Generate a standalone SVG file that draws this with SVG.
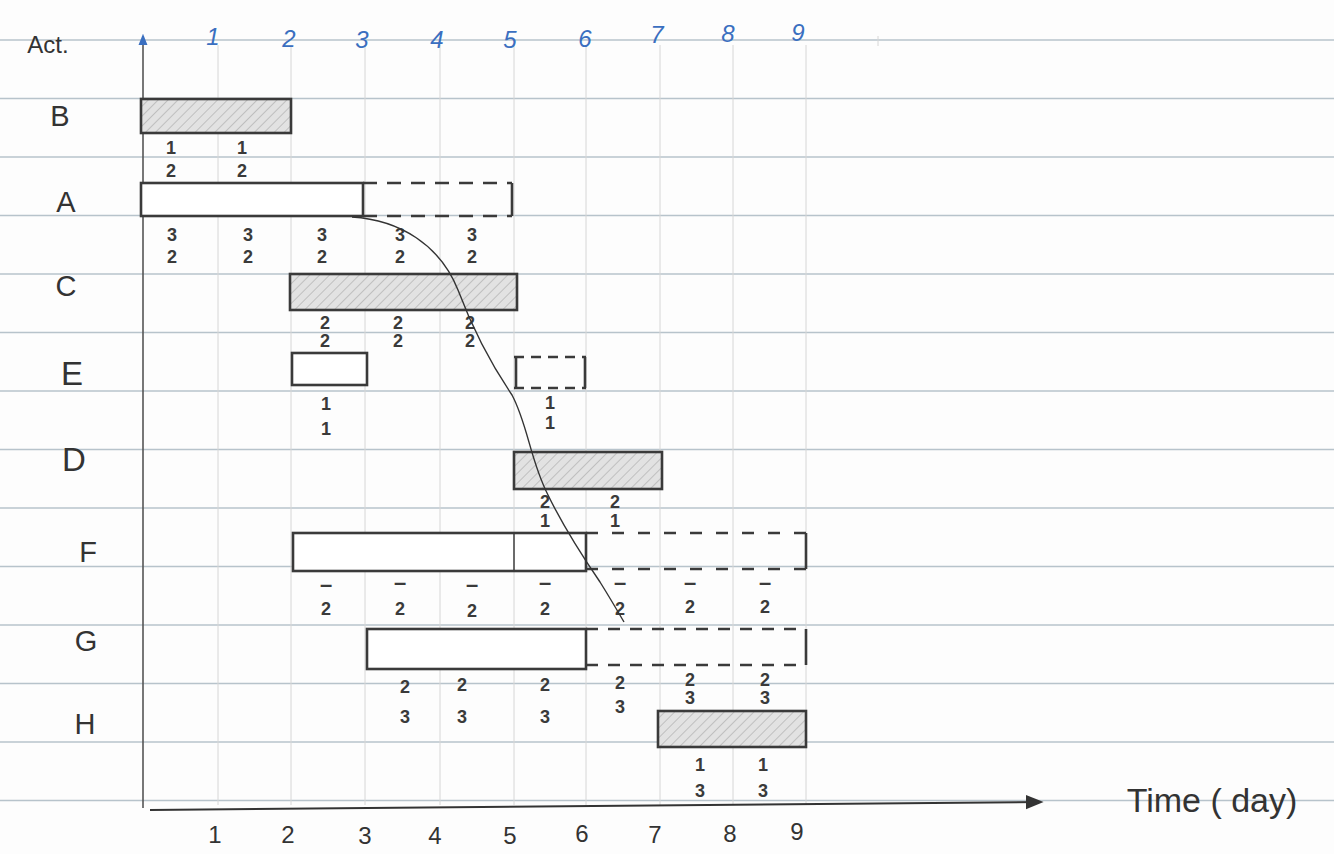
<svg xmlns="http://www.w3.org/2000/svg" width="1334" height="854" viewBox="0 0 1334 854">
<defs>
<pattern id="hatch" patternUnits="userSpaceOnUse" width="7" height="7" patternTransform="rotate(45)">
<rect width="7" height="7" fill="#e2e2e2"/>
<line x1="0" y1="0" x2="0" y2="7" stroke="#a8a8a8" stroke-width="1.2"/>
</pattern>
<marker id="arr" viewBox="0 0 10 10" refX="8" refY="5" markerWidth="9" markerHeight="9" orient="auto">
<path d="M0,1 L10,5 L0,9 Z" fill="#333"/>
</marker>
<marker id="arrb" viewBox="0 0 10 10" refX="8" refY="5" markerWidth="7" markerHeight="7" orient="auto">
<path d="M0,1 L10,5 L0,9 Z" fill="#3a6fc0"/>
</marker>
</defs>
<style>
.rule{stroke:#b7c3cb;stroke-width:1.3}
.vgrid{stroke:#d6d6d6;stroke-width:1}
.lbl{font-family:"Liberation Sans",Arial,sans-serif;font-size:29px;fill:#333;text-anchor:middle}
.num{font-family:"Liberation Sans",Arial,sans-serif;font-size:18px;font-weight:bold;fill:#3a3a3a;text-anchor:middle}
.dsh{font-family:"Liberation Sans",Arial,sans-serif;font-size:22px;font-weight:bold;fill:#3a3a3a;text-anchor:middle}
.ax{font-family:"Liberation Sans",Arial,sans-serif;font-size:24px;fill:#333;text-anchor:middle}
.bax{font-family:"Liberation Sans",Arial,sans-serif;font-size:24px;fill:#3a6fc0;text-anchor:middle;font-style:italic}
.solid{fill:#fff;stroke:#3a3a3a;stroke-width:2.6}
.shade{fill:url(#hatch);stroke:#3a3a3a;stroke-width:2.6}
.dash{fill:none;stroke:#3a3a3a;stroke-width:2.6;stroke-dasharray:14 10}
.edge{fill:none;stroke:#3a3a3a;stroke-width:2.6}
.conn{fill:none;stroke:#333;stroke-width:1.4}
</style>
<rect width="1334" height="854" fill="#fdfdfd"/>
<g id="paper">
<line class="rule" x1="0" y1="40" x2="1334" y2="40"/>
<line class="rule" x1="0" y1="98.5" x2="1334" y2="98.5"/>
<line class="rule" x1="0" y1="157" x2="1334" y2="157"/>
<line class="rule" x1="0" y1="215.5" x2="1334" y2="215.5"/>
<line class="rule" x1="0" y1="274" x2="1334" y2="274"/>
<line class="rule" x1="0" y1="332.5" x2="1334" y2="332.5"/>
<line class="rule" x1="0" y1="391" x2="1334" y2="391"/>
<line class="rule" x1="0" y1="449.5" x2="1334" y2="449.5"/>
<line class="rule" x1="0" y1="508" x2="1334" y2="508"/>
<line class="rule" x1="0" y1="566.5" x2="1334" y2="566.5"/>
<line class="rule" x1="0" y1="625" x2="1334" y2="625"/>
<line class="rule" x1="0" y1="683.5" x2="1334" y2="683.5"/>
<line class="rule" x1="0" y1="742" x2="1334" y2="742"/>
<line class="rule" x1="0" y1="800.5" x2="1334" y2="800.5"/>
<line class="vgrid" x1="218" y1="45" x2="218" y2="805"/>
<line class="vgrid" x1="291" y1="45" x2="291" y2="805"/>
<line class="vgrid" x1="365" y1="45" x2="365" y2="805"/>
<line class="vgrid" x1="440" y1="45" x2="440" y2="805"/>
<line class="vgrid" x1="514" y1="45" x2="514" y2="805"/>
<line class="vgrid" x1="586" y1="45" x2="586" y2="805"/>
<line class="vgrid" x1="660" y1="45" x2="660" y2="805"/>
<line class="vgrid" x1="733" y1="45" x2="733" y2="805"/>
<line class="vgrid" x1="806" y1="45" x2="806" y2="805"/>
<line class="vgrid" x1="878" y1="36" x2="878" y2="46"/>
</g>
<g id="axes">
<line x1="143" y1="808" x2="143" y2="36" stroke="#555" stroke-width="1.6" marker-end="url(#arrb)"/>
<line x1="150" y1="810" x2="1040" y2="802" stroke="#333" stroke-width="2" marker-end="url(#arr)"/>
<text x="48" y="53" class="lbl" style="font-size:24px">Act.</text>
<text x="213" y="45" class="bax">1</text>
<text x="289" y="47" class="bax">2</text>
<text x="362" y="48" class="bax">3</text>
<text x="437" y="48" class="bax">4</text>
<text x="510" y="48" class="bax">5</text>
<text x="585" y="47" class="bax">6</text>
<text x="657" y="43" class="bax">7</text>
<text x="728" y="42" class="bax">8</text>
<text x="798" y="41" class="bax">9</text>
<text x="215" y="843" class="ax">1</text>
<text x="288" y="843" class="ax">2</text>
<text x="365" y="844" class="ax">3</text>
<text x="435" y="844" class="ax">4</text>
<text x="510" y="844" class="ax">5</text>
<text x="582" y="842" class="ax">6</text>
<text x="655" y="843" class="ax">7</text>
<text x="730" y="842" class="ax">8</text>
<text x="797" y="840" class="ax">9</text>
<text x="1212" y="812" class="lbl" style="font-size:34px">Time ( day)</text>
</g>
<g id="node-B">
<text x="60" y="126" class="lbl">B</text>
<rect x="141" y="99" width="150" height="34" class="shade"/>
<text x="171" y="154" class="num">1</text><text x="171" y="177" class="num">2</text>
<text x="242" y="154" class="num">1</text><text x="242" y="177" class="num">2</text>
</g>
<g id="node-A">
<text x="66" y="212" class="lbl">A</text>
<rect x="141" y="183" width="222" height="33" class="solid"/>
<path d="M363,183 H512 M363,216 H512" class="dash"/>
<path d="M512,183 V216" class="edge"/>
<text x="172" y="241" class="num">3</text><text x="172" y="263" class="num">2</text>
<text x="248" y="241" class="num">3</text><text x="248" y="263" class="num">2</text>
<text x="322" y="241" class="num">3</text><text x="322" y="263" class="num">2</text>
<text x="400" y="241" class="num">3</text><text x="400" y="263" class="num">2</text>
<text x="472" y="241" class="num">3</text><text x="472" y="263" class="num">2</text>
</g>
<g id="node-C">
<text x="66" y="296" class="lbl">C</text>
<rect x="290" y="274" width="227" height="36" class="shade"/>
<text x="325" y="329" class="num">2</text><text x="325" y="347" class="num">2</text>
<text x="398" y="329" class="num">2</text><text x="398" y="347" class="num">2</text>
<text x="470" y="329" class="num">2</text><text x="470" y="347" class="num">2</text>
</g>
<g id="node-E">
<text x="72" y="385" class="lbl" style="font-size:33px">E</text>
<rect x="292" y="353" width="75" height="32" class="solid"/>
<path d="M514,357 H586 M514,388 H586" class="dash" style="stroke-dasharray:10 7"/>
<path d="M516,357 V388 M585,357 V388" class="edge"/>
<text x="326" y="410" class="num">1</text><text x="326" y="435" class="num">1</text>
<text x="550" y="409" class="num">1</text><text x="550" y="429" class="num">1</text>
</g>
<g id="node-D">
<text x="74" y="471" class="lbl" style="font-size:33px">D</text>
<rect x="514" y="452" width="148" height="37" class="shade"/>
<text x="545" y="508" class="num">2</text><text x="545" y="527" class="num">1</text>
<text x="615" y="508" class="num">2</text><text x="615" y="527" class="num">1</text>
</g>
<g id="node-F">
<text x="88" y="562" class="lbl">F</text>
<rect x="293" y="533" width="293" height="38" class="solid"/>
<line x1="514" y1="533" x2="514" y2="571" stroke="#3a3a3a" stroke-width="1.5"/>
<path d="M586,533 H806 M586,569 H806" class="dash" style="stroke-dasharray:12 14"/>
<path d="M806,533 V569" class="edge"/>
<text x="326" y="592" class="dsh">–</text><text x="326" y="615" class="num">2</text>
<text x="400" y="590" class="dsh">–</text><text x="400" y="615" class="num">2</text>
<text x="472" y="592" class="dsh">–</text><text x="472" y="617" class="num">2</text>
<text x="545" y="590" class="dsh">–</text><text x="545" y="615" class="num">2</text>
<text x="620" y="590" class="dsh">–</text><text x="620" y="615" class="num">2</text>
<text x="690" y="590" class="dsh">–</text><text x="690" y="613" class="num">2</text>
<text x="765" y="590" class="dsh">–</text><text x="765" y="613" class="num">2</text>
</g>
<g id="node-G">
<text x="86" y="651" class="lbl">G</text>
<rect x="367" y="629" width="219" height="40" class="solid"/>
<path d="M586,629 H806 M586,665 H806" class="dash" style="stroke-dasharray:12 10"/>
<path d="M806,629 V665" class="edge"/>
<text x="405" y="693" class="num">2</text><text x="405" y="723" class="num">3</text>
<text x="462" y="691" class="num">2</text><text x="462" y="723" class="num">3</text>
<text x="545" y="691" class="num">2</text><text x="545" y="723" class="num">3</text>
<text x="620" y="689" class="num">2</text><text x="620" y="713" class="num">3</text>
<text x="690" y="686" class="num">2</text><text x="690" y="704" class="num">3</text>
<text x="765" y="686" class="num">2</text><text x="765" y="704" class="num">3</text>
</g>
<g id="node-H">
<text x="85" y="734" class="lbl">H</text>
<rect x="658" y="711" width="148" height="36" class="shade"/>
<text x="700" y="771" class="num">1</text><text x="700" y="797" class="num">3</text>
<text x="763" y="771" class="num">1</text><text x="763" y="797" class="num">3</text>
</g>
<g id="connectors">
<path class="conn" d="M352,217 C400,220 440,245 458,290 C475,335 495,370 512,395 C528,425 530,460 548,495 C565,530 585,560 600,582 C610,598 617,610 624,622"/>
</g>
</svg>
